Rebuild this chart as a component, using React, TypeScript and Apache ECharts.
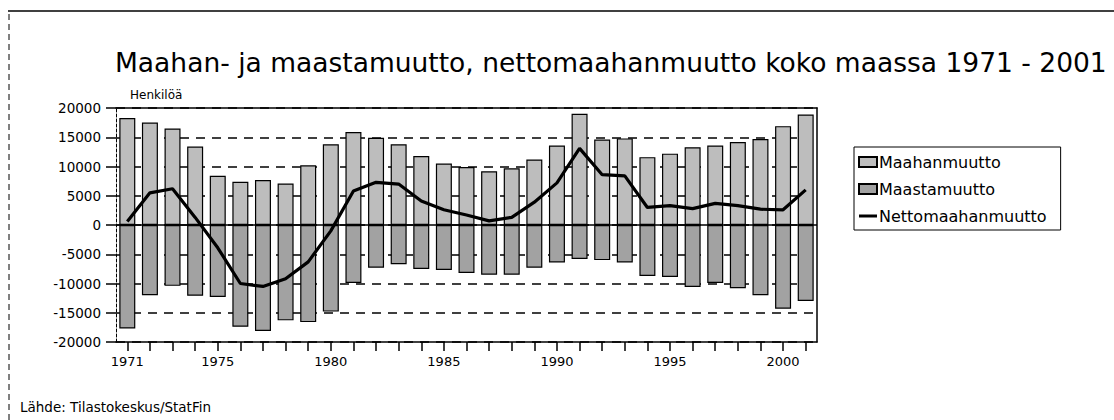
import React, { useEffect, useRef } from "react";
import * as echarts from "echarts";

const years = [
  "1971", "1972", "1973", "1974", "1975", "1976", "1977", "1978", "1979", "1980",
  "1981", "1982", "1983", "1984", "1985", "1986", "1987", "1988", "1989", "1990",
  "1991", "1992", "1993", "1994", "1995", "1996", "1997", "1998", "1999", "2000", "2001",
];

const immigration = [
  18300, 17500, 16500, 13400, 8400, 7400, 7700, 7100, 10200, 13800,
  15900, 14900, 13800, 11800, 10500, 9900, 9200, 9700, 11200, 13600,
  19000, 14600, 14800, 11600, 12200, 13300, 13600, 14200, 14700, 16900, 18900,
];

const emigration = [
  -17700, -12000, -10400, -12100, -12300, -17400, -18100, -16300, -16600, -14800,
  -9900, -7300, -6700, -7500, -7700, -8200, -8500, -8500, -7300, -6400,
  -5800, -6000, -6400, -8700, -8900, -10600, -9900, -10800, -12000, -14300, -13000,
];

const netMigration = [
  600, 5500, 6200, 1300, -3900, -10000, -10500, -9200, -6300, -1000,
  5800, 7300, 7000, 4100, 2600, 1700, 700, 1300, 3900, 7200,
  13100, 8600, 8400, 3000, 3300, 2800, 3700, 3300, 2700, 2600, 6000,
];

const seriesNames = ["Maahanmuutto", "Maastamuutto", "Nettomaahanmuutto"];
const titleText = "Maahan- ja maastamuutto, nettomaahanmuutto koko maassa 1971 - 2001";
const unitText = "Henkilöä";
const sourceText = "Lähde: Tilastokeskus/StatFin";

const FONT = '"DejaVu Sans", Arial, sans-serif';

export default function App() {
  const ref = useRef<HTMLDivElement>(null);

  useEffect(() => {
    if (!ref.current) return;
    const chart = echarts.init(ref.current, null, { renderer: "svg" });
    chart.setOption({
      animation: false,
      backgroundColor: "#ffffff",
      textStyle: { fontFamily: FONT },
      title: {
        text: titleText,
        left: 115,
        top: 49,
        padding: 0,
        textStyle: { fontFamily: FONT, fontSize: 26.5, fontWeight: "normal", color: "#000" },
      },
      legend: {
        orient: "vertical",
        left: 854,
        top: 147,
        padding: [6, 14, 5, 4],
        itemGap: 9,
        itemWidth: 18,
        itemHeight: 10,
        symbolKeepAspect: true,
        borderColor: "#000",
        borderWidth: 1,
        backgroundColor: "#fff",
        data: [
          { name: seriesNames[0], icon: "rect" },
          { name: seriesNames[1], icon: "rect" },
          { name: seriesNames[2], icon: "path://M0,0 H18 V3 H0 Z", itemStyle: { color: "#000", borderWidth: 0 } },
        ],
        textStyle: { fontFamily: FONT, fontSize: 16, color: "#000", padding: [0, 0, 0, -3], lineHeight: 18 },
      },
      grid: { left: 116, right: 297, top: 108, bottom: 78 },
      xAxis: [
        {
          type: "category",
          data: years,
          position: "bottom",
          axisLine: { onZero: false, lineStyle: { color: "#000", width: 1.5 } },
          axisTick: { show: true, alignWithLabel: true, interval: 0, length: 9, lineStyle: { color: "#000", width: 1.5 } },
          axisLabel: {
            interval: (_i: number, v: string) => v === "1971" || Number(v) % 5 === 0,
            margin: 13,
            fontFamily: FONT,
            fontSize: 13,
            color: "#000",
          },
          splitLine: { show: false },
        },
        {
          type: "category",
          data: years,
          position: "top",
          axisLine: { onZero: false, lineStyle: { color: "#000", width: 1.5 } },
          axisTick: { show: false },
          axisLabel: { show: false },
        },
      ],
      yAxis: [
        {
          type: "value",
          min: -20000,
          max: 20000,
          interval: 5000,
          axisLine: { show: true, lineStyle: { color: "#000", width: 1, type: [3, 2] } },
          axisTick: { show: true, length: 10, lineStyle: { color: "#000", width: 1.5 } },
          axisLabel: {
            margin: 15,
            fontFamily: FONT,
            fontSize: 13.5,
            color: "#000",
            formatter: (v: number) => String(v),
          },
          splitLine: { show: true, lineStyle: { color: "#000", width: 1.5, type: [9, 7] } },
        },
        {
          type: "value",
          min: -20000,
          max: 20000,
          interval: 5000,
          position: "right",
          axisLine: { show: true, lineStyle: { color: "#000", width: 1.5 } },
          axisTick: { show: false },
          axisLabel: { show: false },
          splitLine: { show: false },
        },
      ],
      series: [
        {
          name: seriesNames[0],
          type: "bar",
          data: immigration,
          barWidth: 16,
          barGap: "-100%",
          itemStyle: { color: "#bdbdbd", borderColor: "#000", borderWidth: 1.2 },
          z: 2,
          markLine: {
            silent: true,
            symbol: "none",
            label: { show: false },
            lineStyle: { color: "#000", width: 1.5, type: "solid" },
            data: [{ yAxis: 0 }],
          },
        },
        {
          name: seriesNames[1],
          type: "bar",
          data: emigration,
          barWidth: 16,
          barGap: "-100%",
          itemStyle: { color: "#a2a2a2", borderColor: "#000", borderWidth: 1.2 },
          z: 2,
        },
        {
          name: seriesNames[2],
          type: "line",
          data: netMigration,
          symbol: "none",
          showSymbol: false,
          smooth: false,
          lineStyle: { color: "#000", width: 3.2 },
          itemStyle: { color: "#000" },
          z: 5,
        },
      ],
      graphic: [
        { type: "line", shape: { x1: 8, y1: 11, x2: 1114, y2: 11 }, style: { stroke: "#000", lineWidth: 1.5 } },
        { type: "line", shape: { x1: 9, y1: 14, x2: 9, y2: 420 }, style: { stroke: "#000", lineWidth: 1, lineDash: [6, 4] } },
        { type: "text", left: 130, top: 89, style: { text: unitText, fontFamily: FONT, fontSize: 12, fill: "#000" } },
        { type: "text", left: 20, top: 400, style: { text: sourceText, fontFamily: FONT, fontSize: 13.5, fill: "#000" } },
      ],
    });
    return () => chart.dispose();
  }, []);

  return <div ref={ref} style={{ position: "fixed", left: 0, top: 0, width: 1114, height: 420 }} />;
}
